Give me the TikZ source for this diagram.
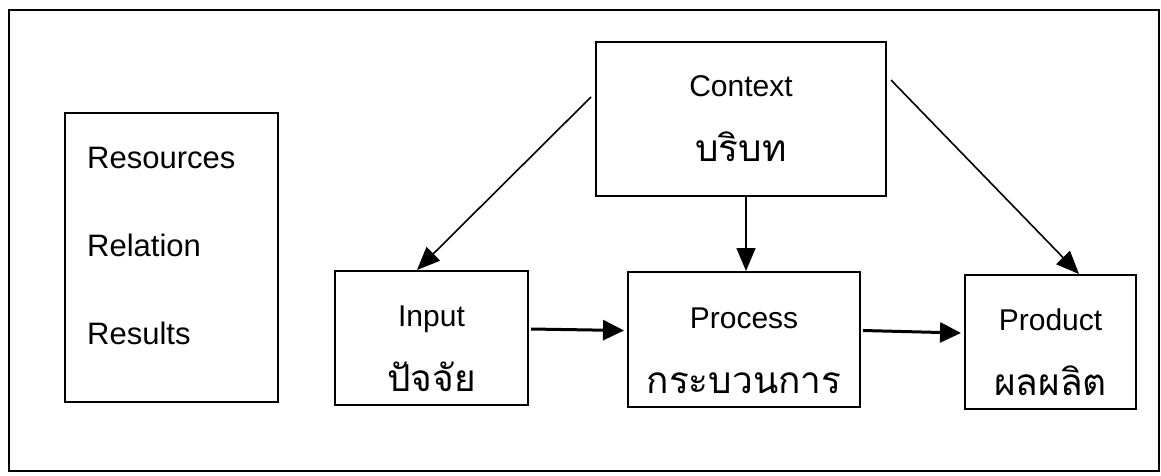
\documentclass[tikz,border=0pt]{standalone}
\usepackage{fontspec}
\setmainfont{Liberation Sans}
\newfontfamily\thai[Script=Thai]{Loma}
\newcommand\thaitext[1]{{\thai\fontsize{37}{65}\selectfont #1}}
% taller first line: pushes the two-line label a little lower in its box
\newcommand\dropstrut{\rule{0pt}{43pt}}
\usetikzlibrary{arrows.meta,calc}
\tikzset{
  box/.style={draw, line width=2pt, inner sep=0pt, align=center,
    font=\fontsize{30}{65}\selectfont},
  link/.style={line width=1.6pt, -{Triangle[length=23pt,width=19pt]}},
  flow/.style={line width=3pt, -{Triangle[length=21pt,width=20pt]}},
}
\begin{document}
\begin{tikzpicture}[x=1pt,y=-1pt]
\useasboundingbox (0,0) rectangle (1161,475);
% outer frame
\node[draw, line width=2pt, minimum width=1150pt, minimum height=461pt,
  anchor=north west] (frame) at (8,9) {};
% the three R's
\node[draw, line width=2pt, minimum width=213pt, minimum height=289pt] (rrr) at (171.5,257.5) {};
\node[anchor=west, align=left, inner sep=0pt, font=\fontsize{31}{88}\selectfont]
  (rtext) at ($(rrr.west)+(23,-12)$) {Resources\\Relation\\Results};
% CIPP boxes
\node[box, minimum width=290pt, minimum height=154pt] (ctx) at (741,119)
  {Context\\\thaitext{บริบท}};
\node[box, minimum width=193pt, minimum height=134pt] (inp) at (431.5,338)
  {\dropstrut Input\\\thaitext{ปัจจัย}};
\node[box, minimum width=232pt, minimum height=135pt] (proc) at (744,339.5)
  {\dropstrut Process\\\thaitext{กระบวนการ}};
\node[box, minimum width=171pt, minimum height=134pt] (prod) at (1050.5,342)
  {\dropstrut Product\\\thaitext{ผลผลิต}};
% connectors
\coordinate (cl) at ($(ctx.west)+(-4,-22)$);
\coordinate (cr) at ($(ctx.east)+(4,-39)$);
\draw[link] (cl) -- ($(inp.north west)+(83,0)$);
\draw[link] (cr) -- ($(prod.north west)+(115,0)$);
\draw[link] ($(ctx.south)+(5,0)$) -- ($(proc.north)+(2,0)$);
\draw[flow] ($(inp.east)+(2,-9)$) -- ($(proc.west)+(-3,-9)$);
\draw[flow] ($(proc.east)+(2,-9)$) -- ($(prod.west)+(-3,-9)$);
\end{tikzpicture}
\end{document}
